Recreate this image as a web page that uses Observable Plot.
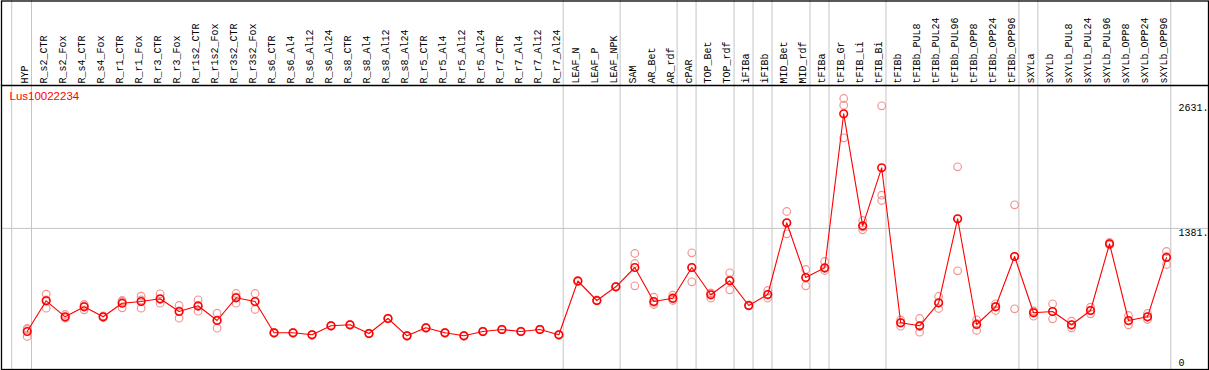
<!DOCTYPE html>
<html>
<head>
<meta charset="utf-8">
<script src="https://cdn.jsdelivr.net/npm/d3@7"></script>
<script src="https://cdn.jsdelivr.net/npm/@observablehq/plot@0.6"></script>
<style>
  html, body { margin: 0; padding: 0; background: #fff; }
  #chart svg { display: block; }
</style>
</head>
<body>
<div id="chart"></div>
<script>
const title = "Lus10022234";

const categories = [
  "HYP","R_s2_CTR","R_s2_Fox","R_s4_CTR","R_s4_Fox","R_r1_CTR","R_r1_Fox","R_r3_CTR","R_r3_Fox",
  "R_r1s2_CTR","R_r1s2_Fox","R_r3s2_CTR","R_r3s2_Fox","R_s6_CTR","R_s6_Al4","R_s6_Al12","R_s6_Al24",
  "R_s8_CTR","R_s8_Al4","R_s8_Al12","R_s8_Al24","R_r5_CTR","R_r5_Al4","R_r5_Al12","R_r5_Al24",
  "R_r7_CTR","R_r7_Al4","R_r7_Al12","R_r7_Al24","LEAF_N","LEAF_P","LEAF_NPK","SAM","AR_Bet","AR_rdf",
  "cPAR","TOP_Bet","TOP_rdf","iFIBa","iFIBb","MID_Bet","MID_rdf","tFIBa","tFIB_Gr","tFIB_Li","tFIB_Bi",
  "tFIBb","tFIBb_PUL8","tFIBb_PUL24","tFIBb_PUL96","tFIBb_OPP8","tFIBb_OPP24","tFIBb_OPP96",
  "sXYLa","sXYLb","sXYLb_PUL8","sXYLb_PUL24","sXYLb_PUL96","sXYLb_OPP8","sXYLb_OPP24","sXYLb_OPP96"
];

const means = [
  350,657,497,597,497,633,650,677,550,
  607,460,687,650,337,337,317,407,
  417,330,480,307,387,337,307,350,
  370,350,370,317,855,660,797,990,650,683,
  990,717,857,610,720,1437,890,987,2527,1407,1987,
  437,407,637,1477,420,597,1100,
  537,550,417,560,1227,460,497,1090
];

const replicates = [
  [380,370,300],[723,583,665],[520,487,485],[620,567,605],[505,490,496],[650,587,660],[703,583,665],[727,633,670],[610,483,557],
  [667,553,600],[533,383,465],[730,633,697],[730,570,650],[340,333,338],[340,334,337],[320,314,317],[410,404,407],
  [420,414,417],[333,327,330],[483,477,480],[310,304,307],[390,384,387],[340,334,337],[310,304,307],[353,347,350],
  [373,367,370],[353,347,350],[373,367,370],[320,314,317],[860,850,855],[665,655,660],[800,795,797],[1130,1030,807],[693,620,640],[713,660,675],
  [1137,847,990],[737,683,730],[937,767,865],[615,605,610],[760,683,715],[1550,1327,1435],[970,807,890],[1050,960,980],[2680,2613,2287],[1460,1367,1395],[2607,1713,1660],
  [403,440,465],[480,343,400],[700,580,635],[1997,957,1477],[467,360,430],[627,560,600],[1617,577,1100],
  [503,550,555],[627,477,550],[453,387,415],[593,527,560],[1240,1215,1227],[510,417,455],[530,470,495],[1150,1020,1100]
];

// group separators: drawn just after these categories
const groupEnds = ["HYP","R_r7_Al24","LEAF_NPK","AR_rdf","cPAR","TOP_rdf","iFIBa","iFIBb","MID_rdf","tFIBa","tFIB_Bi","tFIBb_OPP96","sXYLa","sXYLb_OPP96"];
const groupStart = ["HYP"];

const yTicksUpper = [1381, 2631];
const yTicksZero = [0];
const gridValues = [1381];
const yDomain = [-30, 2810];

const meanRows = categories.map((c, i) => ({cat: c, value: means[i]}));
const repRows = categories.flatMap((c, i) => replicates[i].map(v => ({cat: c, value: v})));

const mono = "Liberation Mono, DejaVu Sans Mono, monospace";
const gray = "#c4c4c4";

const chart = Plot.plot({
  width: 1209,
  height: 370,
  marginTop: 85,
  marginBottom: 1,
  marginLeft: 1,
  marginRight: 1,
  style: {background: "#fff", overflow: "visible"},
  x: {type: "point", domain: categories, range: [26.7, 1166], padding: 0},
  y: {domain: yDomain},
  marks: [
    Plot.ruleY(gridValues, {stroke: gray, strokeWidth: 1}),
    Plot.ruleX(groupEnds, {x: d => d, dx: 4.3, insetTop: -85, stroke: gray, strokeWidth: 1}),
    Plot.ruleX(groupStart, {x: d => d, dx: -15.5, insetTop: -85, stroke: gray, strokeWidth: 1}),
    Plot.frame({insetTop: -84.5, stroke: "#000", strokeWidth: 1.3}),
    Plot.frame({anchor: "top", stroke: "#000", strokeWidth: 1.3}),
    Plot.axisX({anchor: "top", tickRotate: -90, tickSize: 0, tickPadding: 2, dx: -2.5, fontFamily: mono, fontSize: 10, fill: "#000", label: null}),
    Plot.axisY({anchor: "right", ticks: yTicksUpper, tickSize: 0, tickPadding: 0, dx: -30, dy: 4, textAnchor: "start", tickFormat: d => d + ".", fontFamily: mono, fontSize: 10, fill: "#000", label: null}),
    Plot.axisY({anchor: "right", ticks: yTicksZero, tickSize: 0, tickPadding: 0, dx: -30, dy: -4, textAnchor: "start", tickFormat: d => String(d), fontFamily: mono, fontSize: 10, fill: "#000", label: null}),
    Plot.text([title], {frameAnchor: "top-left", text: d => d, dx: 8, dy: 6, fill: "#ff0000", fontFamily: "Liberation Sans, Arial, sans-serif", fontSize: 11.5, textAnchor: "start", lineAnchor: "top"}),
    Plot.dot(repRows, {x: "cat", y: "value", r: 3.8, stroke: "#f29494", strokeWidth: 1.2, fill: "none"}),
    Plot.line(meanRows, {x: "cat", y: "value", stroke: "#ff0000", strokeWidth: 1.1}),
    Plot.dot(meanRows, {x: "cat", y: "value", r: 3.8, stroke: "#ff0000", strokeWidth: 1.6, fill: "none"})
  ]
});

document.getElementById("chart").appendChild(chart);
</script>
</body>
</html>
